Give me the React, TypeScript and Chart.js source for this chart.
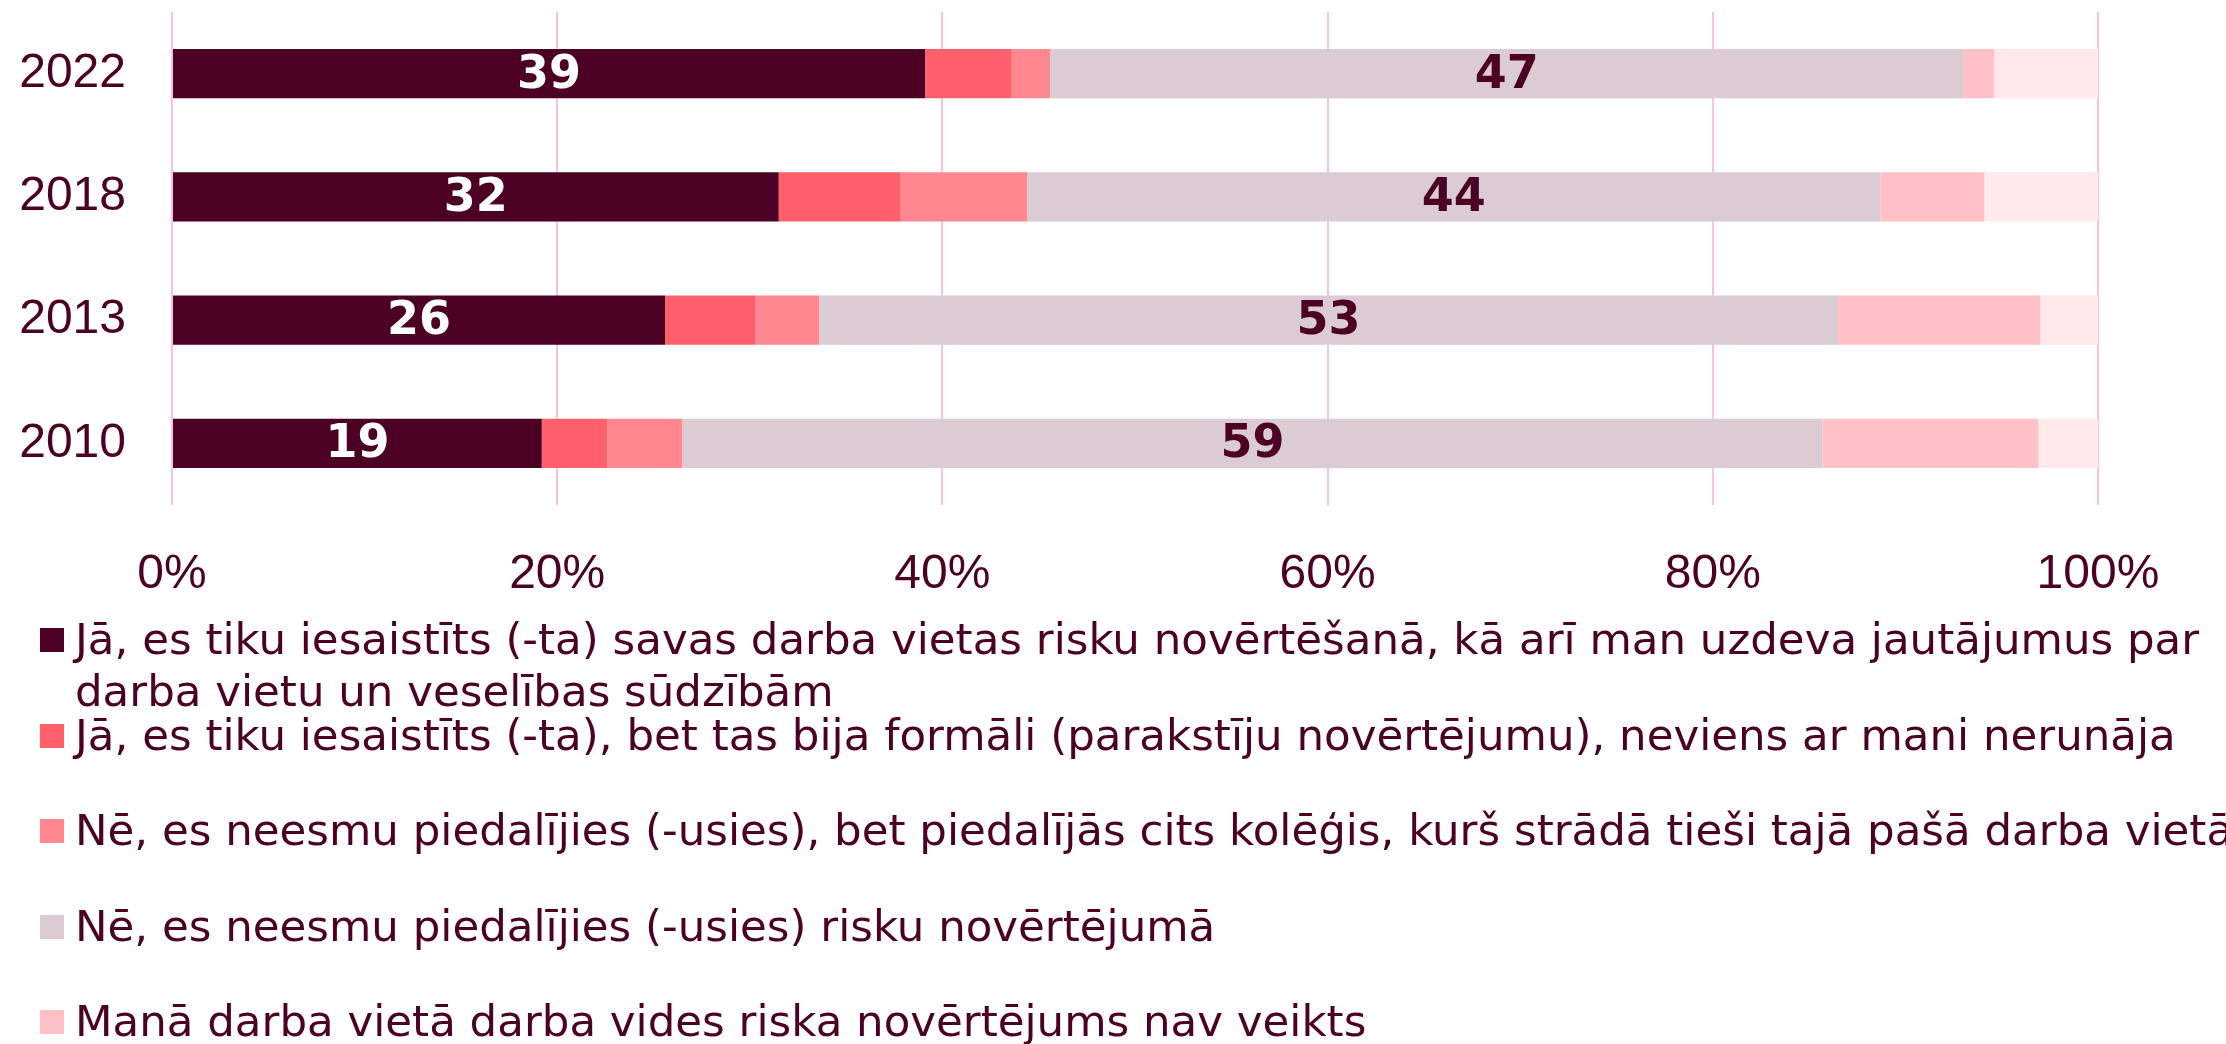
import React, { useEffect, useRef } from "react";
import { Chart, registerables } from "chart.js";

Chart.register(...registerables);

// ---- data ----
const categories = ["2022", "2018", "2013", "2010"];
const seriesNames = [
  "Jā, es tiku iesaistīts (-ta) savas darba vietas risku novērtēšanā, kā arī man uzdeva jautājumus par darba vietu un veselības sūdzībām",
  "Jā, es tiku iesaistīts (-ta), bet tas bija formāli (parakstīju novērtējumu), neviens ar mani nerunāja",
  "Nē, es neesmu piedalījies (-usies), bet piedalījās cits kolēģis, kurš strādā tieši tajā pašā darba vietā",
  "Nē, es neesmu piedalījies (-usies) risku novērtējumā",
  "Manā darba vietā darba vides riska novērtējums nav veikts",
  "Grūti pateikt",
];
const involvedAsked = [39.1, 31.5, 25.6, 19.2];
const involvedFormal = [4.5, 6.3, 4.7, 3.4];
const colleagueParticipated = [2.0, 6.6, 3.3, 3.9];
const notParticipated = [47.4, 44.3, 52.9, 59.2];
const notPerformed = [1.6, 5.4, 10.5, 11.2];
const hardToSay = [5.4, 5.9, 3.0, 3.1];
const seriesValues = [
  involvedAsked,
  involvedFormal,
  colleagueParticipated,
  notParticipated,
  notPerformed,
  hardToSay,
];
const xTickValues = [0, 20, 40, 60, 80, 100];
const labelledSeries = [0, 3];

// ---- styles ----
const colors = ["#4B0024", "#FF606C", "#FF878F", "#DBCBD3", "#FFC0C6", "#FFE9EA"];
const labelColors = ["#FFFFFF", "#FFFFFF", "#FFFFFF", "#4B0024", "#4B0024", "#4B0024"];
const textColor = "#4B0024";
const axisFont = "'Liberation Sans', Arial, sans-serif";
const legendFont = "'DejaVu Sans', Verdana, sans-serif";

const W = 2226;
const H = 1044;

const valueLabels = {
  id: "valueLabels",
  afterDatasetsDraw(chart: any) {
    const ctx = chart.ctx;
    ctx.save();
    ctx.font = `bold 46px ${legendFont}`;
    ctx.textAlign = "center";
    ctx.textBaseline = "middle";
    labelledSeries.forEach((di) => {
      const meta = chart.getDatasetMeta(di);
      meta.data.forEach((bar: any, i: number) => {
        const v = chart.data.datasets[di].data[i];
        const cx = (bar.x + bar.base) / 2;
        ctx.fillStyle = labelColors[di];
        ctx.fillText(String(Math.round(v)), cx, bar.y + 2);
      });
    });
    ctx.restore();
  },
};

export default function App() {
  const ref = useRef<HTMLCanvasElement | null>(null);

  useEffect(() => {
    if (!ref.current) return;
    const chart = new Chart(ref.current, {
      type: "bar",
      data: {
        labels: categories,
        datasets: seriesValues.map((vals, i) => ({
          label: seriesNames[i],
          data: vals,
          backgroundColor: colors[i],
          borderWidth: 0,
          categoryPercentage: 1,
          barPercentage: 0.4,
        })),
      },
      options: {
        indexAxis: "y",
        animation: false,
        responsive: false,
        devicePixelRatio: 1,
        layout: { padding: { top: 12, right: 128, left: 0, bottom: 0 } },
        plugins: {
          legend: { display: false },
          tooltip: { enabled: false },
        },
        scales: {
          x: {
            stacked: true,
            min: 0,
            max: 100,
            afterBuildTicks: (scale: any) => {
              scale.ticks = xTickValues.map((v) => ({ value: v }));
            },
            afterFit: (scale: any) => {
              scale.height = 539;
              scale.paddingLeft = 0;
              scale.paddingRight = 0;
            },
            grid: { color: "#FAC3DA", lineWidth: 2, drawTicks: false },
            border: { display: false },
            ticks: {
              padding: 41,
              color: textColor,
              font: { family: axisFont, size: 48 },
              callback: (v: any) => `${v}%`,
              maxRotation: 0,
            },
          },
          y: {
            stacked: true,
            afterFit: (scale: any) => {
              scale.width = 172;
              scale.paddingTop = 0;
              scale.paddingBottom = 0;
            },
            grid: { display: false, drawTicks: false },
            border: { display: false },
            ticks: {
              padding: 46,
              color: textColor,
              font: { family: axisFont, size: 48 },
            },
          },
        },
      },
      plugins: [valueLabels],
    });
    return () => chart.destroy();
  }, []);

  return (
    <div
      style={{
        position: "absolute",
        left: 0,
        top: 0,
        width: W,
        height: H,
        overflow: "hidden",
        background: "#fff",
      }}
    >
      <canvas ref={ref} width={W} height={H} style={{ width: W, height: H, display: "block" }} />
      {seriesNames.map((name, i) => (
        <div
          key={i}
          style={{
            position: "absolute",
            left: 40,
            top: 614 + i * 95.5,
            display: "flex",
            alignItems: "flex-start",
            fontFamily: legendFont,
            fontSize: 43.5,
            lineHeight: "51.7px",
            color: textColor,
            whiteSpace: i === 0 ? "normal" : "nowrap",
          }}
        >
          <div
            style={{
              width: 24,
              height: 24,
              marginTop: 14,
              background: colors[i],
              flex: "0 0 auto",
            }}
          />
          <div style={{ marginLeft: 11, width: i === 0 ? 2140 : "auto" }}>{name}</div>
        </div>
      ))}
    </div>
  );
}
